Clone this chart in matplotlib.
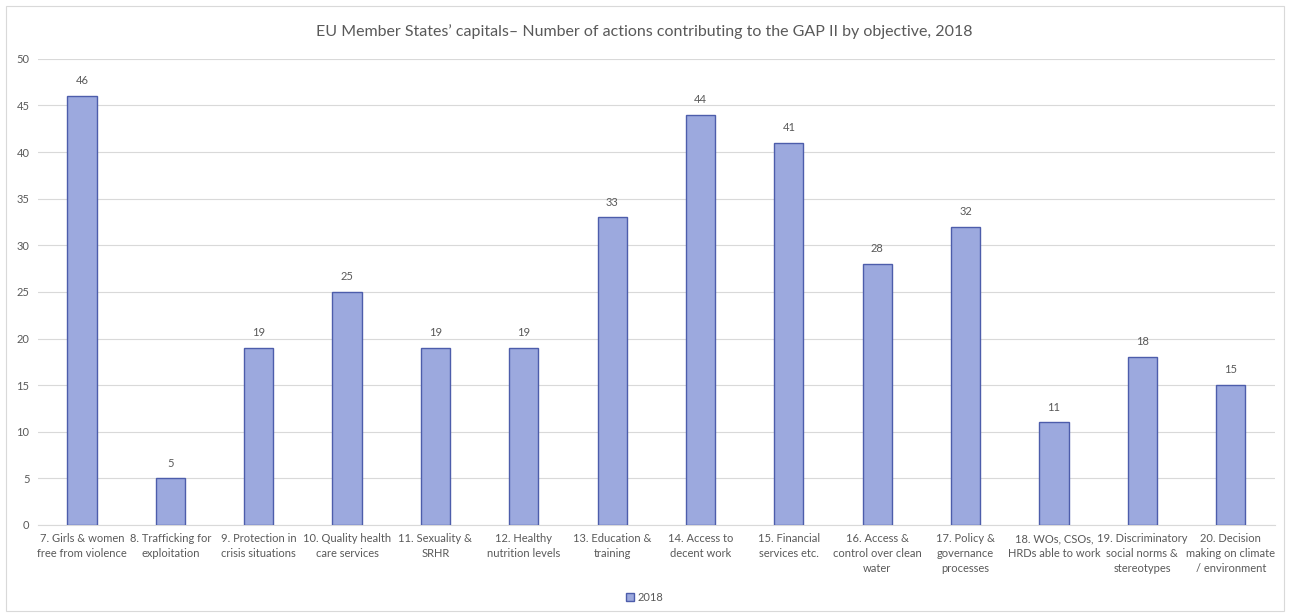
import matplotlib.pyplot as plt
import matplotlib.patches as mpatches
import numpy as np

# objectives (x categories) and counts for 2018
objectives = [
    "7. Girls & women\nfree from violence",
    "8. Trafficking for\nexploitation",
    "9. Protection in\ncrisis situations",
    "10. Quality health\ncare services",
    "11. Sexuality &\nSRHR",
    "12. Healthy\nnutrition levels",
    "13. Education &\ntraining",
    "14. Access to\ndecent work",
    "15. Financial\nservices etc.",
    "16. Access &\ncontrol over clean\nwater",
    "17. Policy &\ngovernance\nprocesses",
    "18. WOs, CSOs,\nHRDs able to work",
    "19. Discriminatory\nsocial norms &\nstereotypes",
    "20. Decision\nmaking on climate\n/ environment",
]
actions_2018 = [46, 5, 19, 25, 19, 19, 33, 44, 41, 28, 32, 11, 18, 15]

plt.rcParams['font.family'] = ['Lato', 'DejaVu Sans']
txt = '#595959'

fig = plt.figure(figsize=(12.89, 6.13), dpi=100)
ax = fig.add_axes([0.0293, 0.1436, 0.9598, 0.7604])

x = np.arange(len(objectives))
bars = ax.bar(x, actions_2018, width=0.33, color='#9ca9de', edgecolor='#4d5dab',
              linewidth=1.0, label='2018', zorder=3)
for xi, v in zip(x, actions_2018):
    ax.annotate(str(v), (xi, v), xytext=(0, 7), textcoords='offset points',
                ha='center', va='bottom', fontsize=8, color=txt)

ax.set_xlim(-0.5, len(objectives) - 0.5)
ax.set_ylim(0, 50)
ax.set_yticks(range(0, 51, 5))
ax.yaxis.grid(True, color='#d9d9d9', linewidth=0.8, zorder=0)
ax.set_xticks(x)
ax.set_xticklabels(objectives, fontsize=8, color=txt, linespacing=1.45)
ax.tick_params(axis='y', labelsize=8, labelcolor=txt, length=0, pad=6)
ax.tick_params(axis='x', length=0, pad=6)
for s in ['top', 'right', 'left']:
    ax.spines[s].set_visible(False)
ax.spines['bottom'].set_color('#d9d9d9')

fig.text(0.5, 0.949, "EU Member States\u2019 capitals\u2013 Number of actions contributing to the GAP II by objective, 2018",
         ha='center', va='center', fontsize=11.5, color=txt)

fig.legend(handles=[mpatches.Patch(facecolor='#9ca9de', edgecolor='#4d5dab', label='2018')],
           loc='center', bbox_to_anchor=(0.5, 0.026), frameon=False, fontsize=8,
           labelcolor=txt, handlelength=0.7, handleheight=0.7, handletextpad=0.3)

# light border around the whole chart
fig.patches.append(mpatches.Rectangle((0.005, 0.004), 0.991, 0.987, transform=fig.transFigure,
                                      fill=False, edgecolor='#d9d9d9', linewidth=0.8))

fig.savefig('out.png', dpi=100)
